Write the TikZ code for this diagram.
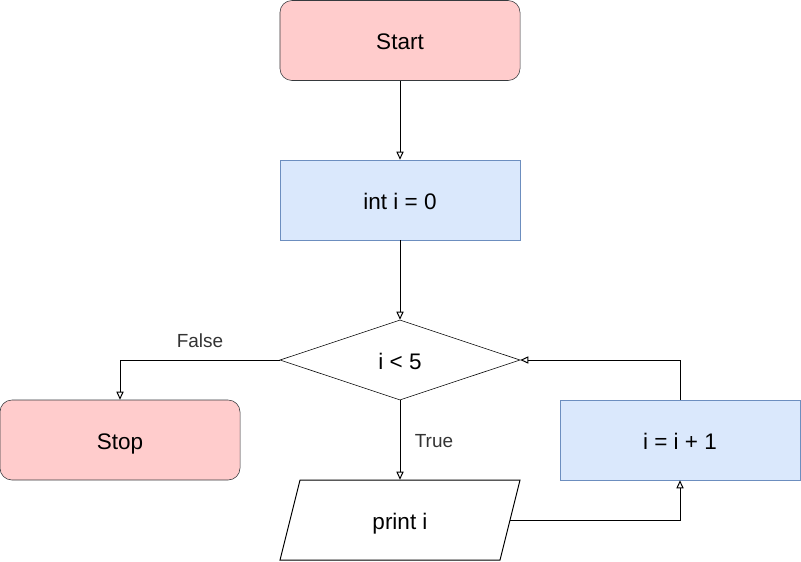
\documentclass[tikz,border=0pt]{standalone}
\usepackage{fontspec}
\setmainfont{Liberation Sans}
\usetikzlibrary{arrows.meta,shapes.geometric}

\definecolor{termfill}{HTML}{FFCCCC}
\definecolor{termline}{HTML}{36393D}
\definecolor{procfill}{HTML}{DAE8FC}
\definecolor{procline}{HTML}{6C8EBF}
\definecolor{labtext}{HTML}{333333}

\tikzset{
  box/.style={minimum width=6cm,minimum height=2cm,inner sep=0pt,
    text height=14pt,text depth=1pt,font=\fontsize{16}{18}\selectfont},
  term/.style={box,draw=termline,fill=termfill,rounded corners=12*0.025cm},
  proc/.style={box,draw=procline,fill=procfill},
  test/.style={box,draw,diamond,aspect=3},
  flow/.style={-{Triangle[open,length=0.2cm,width=0.18cm]},line width=0.7pt},
  edgelabel/.style={text=labtext,font=\fontsize{13.5}{15}\selectfont}
}

\begin{document}
\begin{tikzpicture}[x=0.025cm,y=-0.025cm]
   \useasboundingbox (0,0) rectangle (801,561);
   % nodes
   \node[term] (start) at (400,40.5) {Start};
   \node[proc] (init) at (400,200) {int i = 0};
   \node[test] (cond) at (400,360) {i < 5};
   \node[term] (stop) at (120,440) {Stop};
   \node[proc] (incr) at (680,440) {i = i + 1};
   \draw[line width=0.7pt] (300,480) -- (520,480) -- (500,560) -- (280,560) -- cycle;
   \node[box,minimum width=5.5cm] (print) at (400,520) {print i};
   \coordinate (printout) at (510,520);
   % connectors
   \path[flow] (start) edge (init);
   \path[flow] (init) edge (cond);
   \path[flow] (cond) edge (print);
   \draw[flow] (cond.west) -| (stop.north);
   \draw[flow] (printout) -| (incr.south);
   \draw[flow] (incr.north) |- (cond.east);
   % labels
   \node[edgelabel] (falselab) at (200,341) {False};
   \node[edgelabel] (truelab) at (434,441) {True};
\end{tikzpicture}
\end{document}
